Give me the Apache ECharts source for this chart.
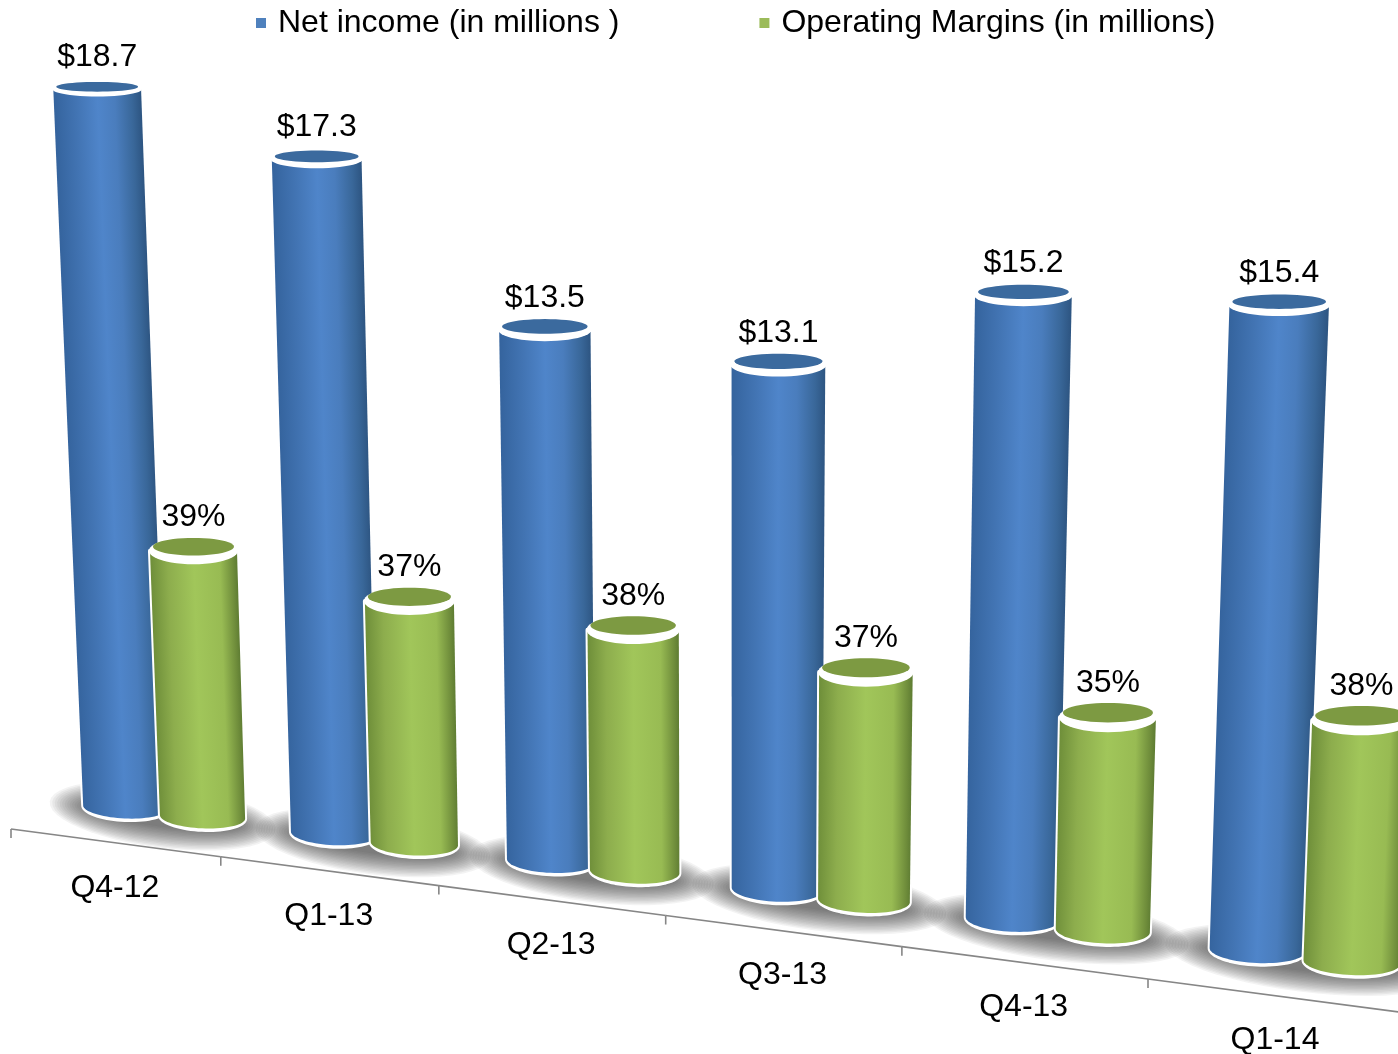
<!DOCTYPE html>
<html>
<head>
<meta charset="utf-8">
<style>html,body{margin:0;padding:0;background:#fff}#c{width:1398px;height:1054px}</style>
<script src="https://cdn.jsdelivr.net/npm/echarts@6/dist/echarts.min.js"></script>
</head>
<body>
<div id="c"></div>
<script>
const categories = ['Q4-12','Q1-13','Q2-13','Q3-13','Q4-13','Q1-14'];
const netIncome = [18.7,17.3,13.5,13.1,15.2,15.4];
// the picture prints them rounded to whole percent
const operatingMargins = [39.4,37.3,37.5,36.5,35.4,38.4];
const netIncomeName = 'Net income (in millions )';
const marginName = 'Operating Margins (in millions)';

const FONT = '32px "Liberation Sans", Arial, sans-serif';
const MARGIN_AXIS_MIN = 13.65, MARGIN_AXIS_MAX = 91.6;
const BLUE = {
  stops: [[0,'#35649e'],[0.25,'#4274b3'],[0.5,'#4f85ca'],[0.7,'#4a7dbd'],[0.9,'#396799'],[1,'#2e5683']],
  cap: '#3b6a9e', legend: '#4f81bd', shift: 0, base: 0, tilt: 0, labelGap: 32
};
const GREEN = {
  stops: [[0,'#6f8f3a'],[0.2,'#8dad4d'],[0.5,'#a1c65a'],[0.8,'#98bb53'],[0.95,'#6f8d3b'],[1,'#5f7d33']],
  cap: '#7d9a42', legend: '#9bbb59', shift: 0.375, base: MARGIN_AXIS_MIN, tilt: -0.737, labelGap: 34
};

// perspective: grid pixel -> picture pixel, calibrated on the two outer blue bars
const SCREEN_CAL = [[125,807],[97,89],[1257,950],[1279,305]];
let H = null;
function solve(A, b) {
  const n = b.length, M = A.map((r,i)=>r.concat(b[i]));
  for (let c=0;c<n;c++){
    let p=c; for(let r=c+1;r<n;r++) if(Math.abs(M[r][c])>Math.abs(M[p][c])) p=r;
    [M[c],M[p]]=[M[p],M[c]];
    for(let r=0;r<n;r++){ if(r===c) continue; const f=M[r][c]/M[c][c];
      for(let k=c;k<=n;k++) M[r][k]-=f*M[c][k]; }
  }
  return M.map((r,i)=>r[n]/r[i]);
}
function calibrate(api){
  if (H) return;
  const last = categories.length-1;
  const src = [
    api.coord([0,0]), api.coord([0,netIncome[0]]),
    api.coord([last,0]), api.coord([last,netIncome[last]])
  ];
  const A=[],b=[];
  src.forEach((s,i)=>{
    const d=SCREEN_CAL[i];
    A.push([s[0],s[1],1,0,0,0,-s[0]*d[0],-s[1]*d[0]]); b.push(d[0]);
    A.push([0,0,0,s[0],s[1],1,-s[0]*d[1],-s[1]*d[1]]); b.push(d[1]);
  });
  H = solve(A,b);
}
function warp(p){
  const w=H[6]*p[0]+H[7]*p[1]+1;
  return [(H[0]*p[0]+H[1]*p[1]+H[2])/w,(H[3]*p[0]+H[4]*p[1]+H[5])/w];
}
function at(api,i,frac,val){
  const c=api.coord([i,val]), band=api.size([1,0])[0];
  return warp([c[0]+frac*band,c[1]]);
}
function halfWidth(i){ return 0.205-0.003*i; }
function capDepth(y){ return 7.5+7.5*Math.pow(Math.max(0,y-89)/627,0.7); }
function baseDepth(y){ return 11.5+(y-810)*0.0107; }
function arc(c,a,ry,t0,t1,n){
  const la=Math.hypot(a[0],a[1]), bx=-a[1]/la*ry, by=a[0]/la*ry, pts=[];
  for(let k=0;k<=n;k++){
    const t=t0+(t1-t0)*k/n, ct=Math.cos(t), st=Math.sin(t);
    pts.push([c[0]+a[0]*ct+bx*st, c[1]+a[1]*ct+by*st]);
  }
  return pts;
}

function renderFloor(params, api){
  calibrate(api);
  const i=api.value(0), children=[];
  // soft floor shadow
  const L=at(api,i,BLUE.shift-0.37,0), R=at(api,i,GREEN.shift+0.35,0);
  const c=[(L[0]+R[0])/2,(L[1]+R[1])/2+4], a=[(R[0]-L[0])/2,(R[1]-L[1])/2];
  for(let k=0;k<16;k++){
    const s=1-k*0.022;
    children.push({type:'polygon',shape:{points:arc(c,[a[0]*s,a[1]*s],(32-k*1.4),0,Math.PI*2,48)},
      style:{fill:'rgba(50,50,50,0.058)'},silent:true});
  }
  // category axis
  const axis=(u)=>{
    const j=Math.floor(u), p=at(api,j,u-j,0);
    return [p[0]-114+u, p[1]+22+1.4*u];
  };
  const a0=axis(i), a1=axis(i+1), m=axis(i+0.5);
  const axisStyle={stroke:'#868686',lineWidth:1.6};
  children.push({type:'line',shape:{x1:a0[0],y1:a0[1],x2:a1[0],y2:a1[1]},style:axisStyle,silent:true});
  children.push({type:'line',shape:{x1:a0[0],y1:a0[1],x2:a0[0],y2:a0[1]+9},style:axisStyle,silent:true});
  children.push({type:'text',style:{text:categories[i],x:m[0],y:m[1]+45-0.2*i,font:FONT,fill:'#000',
    textAlign:'center',textVerticalAlign:'middle'},silent:true});
  return {type:'group',children};
}

function renderBar(theme, label){
  return function(params, api){
    calibrate(api);
    const i=api.value(0), raw=api.value(1);
    const v=raw+theme.tilt*(i-2.5), HALF=halfWidth(i);
    const TL=at(api,i,theme.shift-HALF,v), TR=at(api,i,theme.shift+HALF,v);
    const BL=at(api,i,theme.shift-HALF,theme.base), BR=at(api,i,theme.shift+HALF,theme.base);
    const tc=[(TL[0]+TR[0])/2,(TL[1]+TR[1])/2], bc=[(BL[0]+BR[0])/2,(BL[1]+BR[1])/2];
    const tr=Math.hypot(TR[0]-TL[0],TR[1]-TL[1])/2;
    const ba=[(BR[0]-BL[0])/2,(BR[1]-BL[1])*0.35/2];
    const tRy=capDepth(tc[1]), bRy=baseDepth(bc[1]);
    const outline=(ry)=>[[tc[0]-tr,tc[1]]].concat(arc(bc,ba,ry,Math.PI,0,36)).concat([[tc[0]+tr,tc[1]]]);
    // shading runs across the cylinder, square to its lean
    const mid=[(tc[0]+bc[0])/2,(tc[1]+bc[1])/2];
    const dx=tc[0]-bc[0], dy=tc[1]-bc[1], dl=Math.hypot(dx,dy);
    const nx=-dy/dl, ny=dx/dl, hw=(tr+Math.hypot(ba[0],ba[1]))/2;
    const sgn=nx>0?1:-1;
    const fill=new echarts.graphic.LinearGradient(
      mid[0]-sgn*nx*hw,mid[1]-sgn*ny*hw,mid[0]+sgn*nx*hw,mid[1]+sgn*ny*hw,
      theme.stops.map(s=>({offset:s[0],color:s[1]})),true);
    const children=[
      {type:'polygon',shape:{points:outline(bRy+1.5)},style:{fill:'#fff',stroke:'#fff',lineWidth:4,lineJoin:'round'},silent:true},
      {type:'polygon',shape:{points:outline(bRy)},style:{fill:fill},silent:true},
      {type:'polygon',shape:{points:arc(tc,[tr+1,0],tRy,0,Math.PI*2,48)},style:{fill:'#fff'},silent:true},
      {type:'polygon',shape:{points:arc([tc[0],tc[1]-tRy*0.3],[tr-3,0],tRy*0.65,0,Math.PI*2,48)},style:{fill:theme.cap},silent:true},
      {type:'text',style:{text:label(raw),x:tc[0],y:tc[1]-theme.labelGap,font:FONT,fill:'#000',
        textAlign:'center',textVerticalAlign:'middle'},silent:true}
    ];
    return {type:'group',children};
  };
}

const chart=echarts.init(document.getElementById('c'),null,{renderer:'canvas',width:1398,height:1054});
chart.setOption({
  animation:false,
  backgroundColor:'#fff',
  grid:{left:0,right:0,top:0,bottom:0},
  xAxis:{type:'category',data:categories,show:false},
  yAxis:[
    {type:'value',min:0,max:20,show:false},
    {type:'value',min:MARGIN_AXIS_MIN,max:MARGIN_AXIS_MAX,show:false}
  ],
  legend:{
    data:[netIncomeName,marginName],
    left:251,top:2,itemWidth:10,itemHeight:10,itemGap:140,icon:'rect',selectedMode:false,
    textStyle:{fontFamily:'"Liberation Sans", Arial, sans-serif',fontSize:32,color:'#000',padding:[0,0,0,7]}
  },
  series:[
    {type:'custom',name:'floor',silent:true,renderItem:renderFloor,
     data:categories.map((c,i)=>[i,0]),encode:{x:0,y:1}},
    {type:'custom',name:netIncomeName,silent:true,itemStyle:{color:BLUE.legend},
     renderItem:renderBar(BLUE,v=>'$'+v.toFixed(1)),
     data:netIncome.map((v,i)=>[i,v]),encode:{x:0,y:1}},
    {type:'custom',name:marginName,silent:true,yAxisIndex:1,itemStyle:{color:GREEN.legend},
     renderItem:renderBar(GREEN,v=>Math.round(v)+'%'),
     data:operatingMargins.map((v,i)=>[i,v]),encode:{x:0,y:1}}
  ]
});
</script>
</body>
</html>
